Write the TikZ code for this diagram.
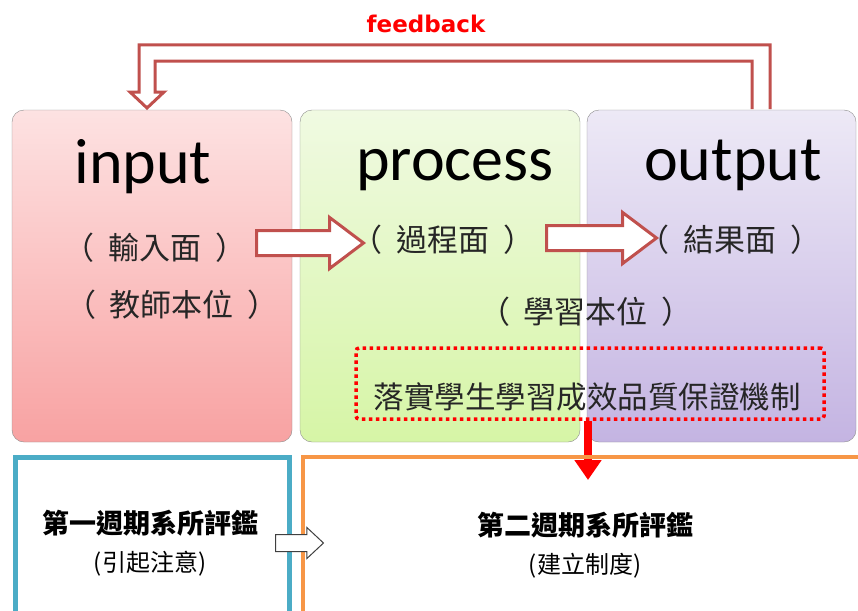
\documentclass[tikz,border=0pt]{standalone}
\usepackage{fontspec}
\setmainfont{Carlito}
\newfontfamily\cjk{Noto Sans CJK TC}
\newfontfamily\fbfont{DejaVu Sans}
\usetikzlibrary{shapes.arrows,arrows.meta,calc}
\definecolor{fbRed}{HTML}{C0504D}
\definecolor{inTop}{HTML}{FDE2E2}
\definecolor{inBot}{HTML}{F8A2A2}
\definecolor{prTop}{HTML}{F0FAE2}
\definecolor{prBot}{HTML}{D6F5A6}
\definecolor{ouTop}{HTML}{EDE9F6}
\definecolor{ouBot}{HTML}{C4B4E2}
\definecolor{cycA}{HTML}{4BACC6}
\definecolor{cycB}{HTML}{F79646}
\newcommand{\zhpar}[1]{（\hspace{0.45em}#1\hspace{0.45em}）}
\begin{document}
\begin{tikzpicture}[x=1pt, y=-1pt,
  stage/.style={draw=black!45, rounded corners=12pt, minimum height=332pt},
  word/.style={anchor=base, font=\fontsize{64}{70}\selectfont},
  zh/.style={font=\cjk\fontsize{31}{36}\selectfont, text=black!85},
  bigarrow/.style={single arrow, draw=fbRed, line width=3pt, fill=white, inner sep=0pt, inner ysep=11pt,
    minimum height=107pt, single arrow head extend=13pt, single arrow tip angle=74, anchor=tail},
  cycle/.style={line width=5pt, minimum height=170pt}]
\useasboundingbox (0,0) rectangle (858,610);
\clip (0,0) rectangle (858,610);
% three stages
\node[stage, minimum width=280pt, top color=inTop, bottom color=inBot] (input) at (152,276) {};
\node[stage, minimum width=280pt, top color=prTop, bottom color=prBot] (process) at (440,276) {};
\node[stage, minimum width=269pt, top color=ouTop, bottom color=ouBot] (output) at (721.5,276) {};
\node[word] (inputT) at (143,183) {input};
\node[word] (processT) at (455,180) {process};
\node[word] (outputT) at (733,180) {output};
\node[zh] (inA) at (155,248) {\zhpar{輸入面}};
\node[zh] (inB) at (172,305) {\zhpar{教師本位}};
\node[zh] (prA) at (443,240) {\zhpar{過程面}};
\node[zh] (ouA) at (730,240) {\zhpar{結果面}};
\node[zh] (stu) at (586,312) {\zhpar{學習本位}};
\node[bigarrow] (arrA) at (255,243) {};
\node[bigarrow, minimum height=110pt] (arrB) at (545,238) {};
% feedback loop
\node[font=\fbfont\bfseries\fontsize{23}{27}\selectfont, text=red, anchor=base] (fb) at (426,33) {feedback};
\coordinate (fbS) at (761,109);
\coordinate (fbE) at (147,108);
\draw[fbRed, line width=3pt, fill=white]
  ($(fbS)+(9,0)$) |- ($(fbE)+(-8,-63)$) -- ($(fbE)+(-8,-16)$) -- ($(fbE)+(-17,-16)$) -- (fbE)
  -- ($(fbE)+(17,-16)$) -- ($(fbE)+(8,-16)$) |- ($(fbS)+(-9,-48)$) -- ($(fbS)+(-9,0)$);
% quality box
\node[draw=red, line width=3.5pt, dash pattern=on 3.5pt off 3.5pt, rounded corners=3pt,
  minimum width=468pt, minimum height=71pt] (qa) at (590,383.5) {};
\node[font=\cjk\fontsize{30.5}{35}\selectfont, text=black!85] (qaT) at (587,397) {落實學生學習成效品質保證機制};
\coordinate (qaEnd) at (588,480);
\draw[line width=8pt, red, -{Triangle[width=26pt,length=20pt]}] (qaEnd |- qa.south) -- (qaEnd);
% evaluation cycles
\node[cycle, draw=cycA, minimum width=274pt] (cyc1) at (152,542) {};
\node[cycle, draw=cycB, line width=4pt, minimum width=577pt] (cyc2) at (591.5,542) {};
\node[font=\cjk\bfseries\fontsize{27}{32}\selectfont] (cyc1a) at (150,523) {第一週期系所評鑑};
\node[font=\cjk\fontsize{24}{28}\selectfont] (cyc1b) at (150,564) {(引起注意)};
\node[font=\cjk\bfseries\fontsize{27}{32}\selectfont] (cyc2a) at (585,525) {第二週期系所評鑑};
\node[font=\cjk\fontsize{24}{28}\selectfont] (cyc2b) at (585,566) {(建立制度)};
\node[single arrow, draw=black!75, line width=1pt, fill=white, inner sep=0pt, inner ysep=8pt,
  minimum height=48pt, single arrow head extend=7pt, single arrow tip angle=86, anchor=tail] (arrC) at (275,543) {};
\end{tikzpicture}
\end{document}
